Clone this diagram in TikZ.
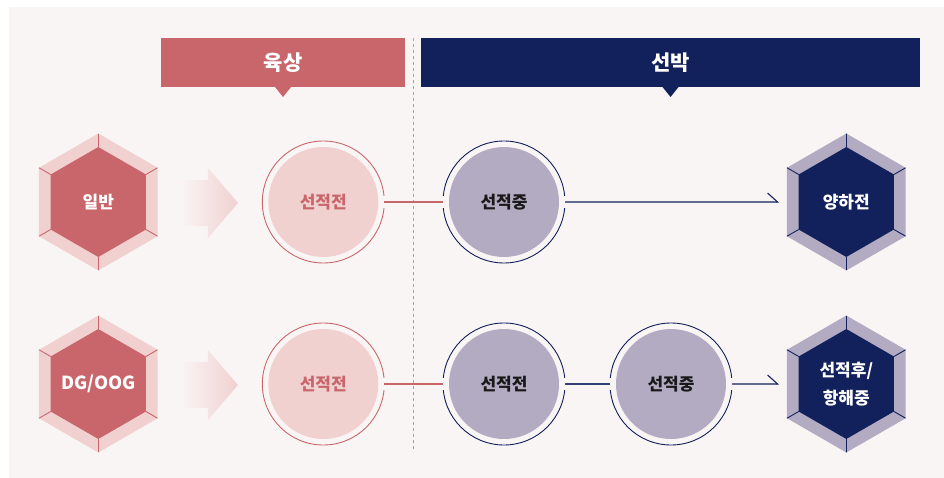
\documentclass[tikz,border=0pt]{standalone}
\usepackage{fontspec}
\setmainfont{Noto Sans CJK KR}
\usetikzlibrary{shapes.geometric, positioning, calc, arrows.meta}

\definecolor{panelbg}{RGB}{250,245,245}
\definecolor{rose}{RGB}{201,102,108}
\definecolor{blush}{RGB}{240,209,208}
\definecolor{navy}{RGB}{18,32,92}
\definecolor{lilac}{RGB}{179,171,194}
\definecolor{dashrose}{RGB}{229,138,142}
\definecolor{linknavy}{RGB}{50,62,120}

\newcommand\txtfont{\bfseries\fontsize{17}{28}\selectfont}
\newcommand\hdfont{\bfseries\fontsize{21}{21}\selectfont}

\tikzset{
  header/.style={rectangle, fill=#1, minimum width=244pt, minimum height=49pt,
    inner sep=0pt, outer sep=0pt, text=white, font=\hdfont},
  pinkring/.style={circle, draw=rose, line width=0.9pt, minimum size=122pt,
    inner sep=0pt, outer sep=0pt, text=rose, font=\txtfont,
    path picture={\fill[blush] (path picture bounding box.center) circle (55pt);}},
  navyring/.style={circle, draw=navy, line width=0.9pt, minimum size=122pt,
    inner sep=0pt, outer sep=0pt, text=black!90, font=\txtfont,
    path picture={\fill[lilac] (path picture bounding box.center) circle (55pt);}},
  hexnode/.style 2 args={regular polygon, regular polygon sides=6,
    shape border rotate=30, minimum size=137pt, inner sep=0pt, outer sep=0pt,
    fill=#1, text=white, font=\txtfont, align=center,
    path picture={
      \coordinate (hc) at (path picture bounding box.center);
      \fill[#2] ($(hc)+(90:55pt)$) \foreach \k in {1,...,5}{ -- ($(hc)+(90+60*\k:55pt)$)} -- cycle;
      \foreach \k in {0,...,5}{\draw[#2, line width=0.9pt] ($(hc)+(90+60*\k:55pt)$) -- ($(hc)+(90+60*\k:75pt)$);}
    }},
  gapcut/.style={draw=panelbg, line width=4pt},
  link/.style={draw=#1, line width=1.1pt},
  flow/.style={draw=navy, line width=1.1pt, shorten >=8pt,
    -{Straight Barb[left, length=10pt, width=18pt, line width=1.1pt]}},
}

\begin{document}
\begin{tikzpicture}[x=1pt, y=-1pt]

%frame
  \useasboundingbox (0,0) rectangle (944,478);
  \fill[panelbg] (9,7) rectangle (944,478);

%headers
  \node[header=rose] (land) at (283,62.5) {육상};
  \node[header=navy, minimum width=499pt] (ship) at (670.5,62.5) {선박};
  \fill[rose] ([xshift=-8pt]land.south) -- ++(8,10) -- ++(8,-10) -- cycle;
  \fill[navy] ([xshift=-8pt]ship.south) -- ++(8,10) -- ++(8,-10) -- cycle;

%divider
  \coordinate (divtop) at (413.5,38);
  \coordinate (divbot) at (413.5,452);
  \draw[dashrose, line width=0.9pt, dash pattern=on 3pt off 3pt] (divtop) -- (divbot);

%row 1
  \node[hexnode={blush}{rose}] (h11) at (98.3,202) {일반};
  \node[pinkring] (c11) at (323.3,202) {선적전};
  \node[navyring] (c12) at (504,202) {선적중};
  \node[hexnode={lilac}{navy}] (h13) at (846.3,202) {양하전};

%row 2
  \node[hexnode={blush}{rose}, font=\bfseries\fontsize{18}{18}\selectfont] (h21) at (98.3,384) {DG/OOG};
  \node[pinkring] (c21) at (323.3,384) {선적전};
  \node[navyring] (c22) at (504,384) {선적전};
  \node[navyring] (c23) at (671,384) {선적중};
  \node[hexnode={lilac}{navy}] (h24) at (846.3,384) {선적후/\\항해중};

%fading arrows
  \foreach \a/\b in {h11/c11, h21/c21}{
    \coordinate (m) at ($(\a.east)!0.5!(\b.west)$);
    \shade[left color=panelbg, middle color=blush!70!panelbg, right color=blush]
      ($(m)+(-30,-22)$) -- ($(m)+(-2,-22)$) -- ($(m)+(-2,-34)$) -- ($(m)+(28,1)$)
      -- ($(m)+(-2,36)$) -- ($(m)+(-2,24)$) -- ($(m)+(-30,24)$) -- cycle;
  }

%gaps in the rings
  \foreach \n/\s in {c11/east, c12/west, c12/east, c21/east, c22/west, c22/east, c23/west, c23/east}{
    \draw[gapcut] ([yshift=-6pt]\n.\s) -- ([yshift=6pt]\n.\s);
  }

%links
  \draw[link=rose] (c11.east) -- (c12.west);
  \draw[flow] (c12.east) -- (h13.west);
  \draw[link=rose] (c21.east) -- (c22.west);
  \draw[link=linknavy] (c22.east) -- (c23.west);
  \draw[flow] (c23.east) -- (h24.west);
\end{tikzpicture}
\end{document}
